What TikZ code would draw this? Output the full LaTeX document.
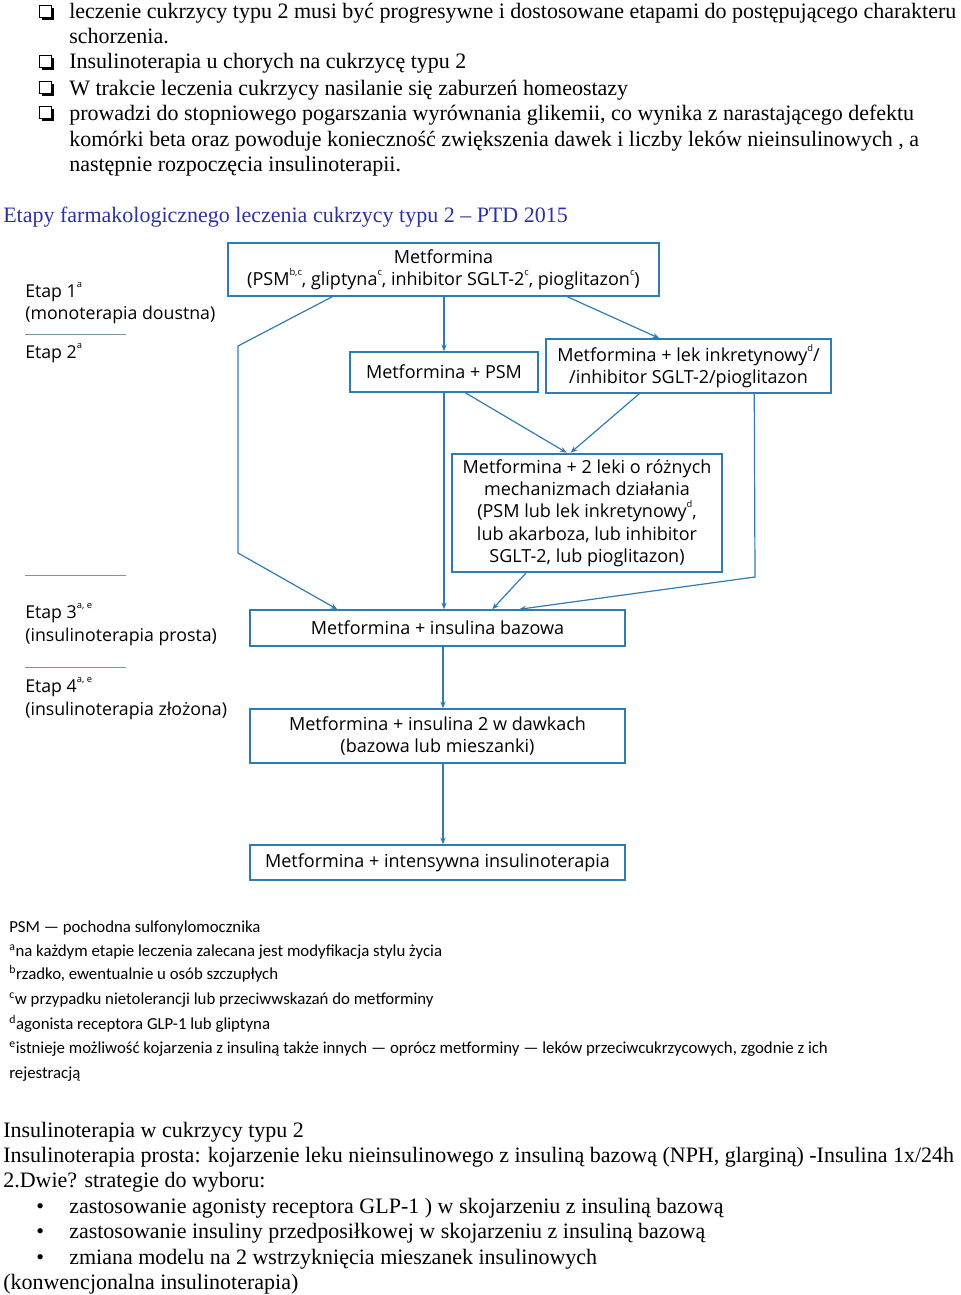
\documentclass[tikz,border=0pt]{standalone}
\usepackage{fontspec}
\setmainfont{Liberation Serif}
\newfontfamily\diagfont{Open Sans}
\newfontfamily\footfont{Carlito}
\usetikzlibrary{arrows.meta,calc}
\definecolor{boxblue}{RGB}{45,125,180}
\definecolor{titleblue}{RGB}{45,50,160}
\definecolor{sepblue}{RGB}{120,150,165}
\newcommand{\tsup}[1]{\raisebox{0.55em}{\fontsize{7}{7}\selectfont #1}}
\begin{document}
\begin{tikzpicture}[x=0.75pt,y=-0.75pt,
  body/.style={anchor=base west, inner sep=0pt, font=\fontsize{16.5}{19}\selectfont},
  etap/.style={anchor=base west, inner sep=0pt, font=\diagfont\fontsize{13.3}{16}\selectfont},
  fn/.style={anchor=base west, inner sep=0pt, font=\footfont\fontsize{12.6}{15}\selectfont},
  box/.style={draw=boxblue, line width=1.1pt, inner sep=0pt, align=center,
    font=\diagfont\fontsize{13.5}{16.7}\selectfont},
  conn/.style={draw=boxblue, line width=0.9pt},
  arr/.style={conn, -{Stealth[length=5pt,width=4pt]}},
  sep/.style={draw=sepblue, line width=0.6pt},
  chk/.style={draw=black, line width=0.6pt, fill=white}]
\useasboundingbox (0,0) rectangle (960,1295);

% checkboxes
\foreach \yy in {12,62,88,113}{
  \fill (42,\yy-4) rectangle (54,\yy+8);
  \draw[chk] (39,\yy-7) rectangle (51,\yy+5);
}
\node[body] (t1) at (69,19) {leczenie cukrzycy typu 2 musi być progresywne i dostosowane etapami do postępującego charakteru};
\node[body] (t2) at (69,44) {schorzenia.};
\node[body] (t3) at (69,69) {Insulinoterapia u chorych na cukrzycę typu 2};
\node[body] (t4) at (69,95) {W trakcie leczenia cukrzycy nasilanie się zaburzeń homeostazy};
\node[body] (t5) at (69,120) {prowadzi do stopniowego pogarszania wyrównania glikemii, co wynika z narastającego defektu};
\node[body] (t6) at (69,146) {komórki beta oraz powoduje konieczność zwiększenia dawek i liczby leków nieinsulinowych , a};
\node[body] (t7) at (69,171) {następnie rozpoczęcia insulinoterapii.};

\node[body, text=titleblue] (title) at (3,222) {Etapy farmakologicznego leczenia cukrzycy typu 2 – PTD 2015};

% stage labels
\node[etap] (e1) at (25,297) {Etap 1\tsup{a}};
\node[etap] (e1b) at (25,319) {(monoterapia doustna)};
\draw[sep] (25,334) -- (126,334);
\node[etap] (e2) at (25,358) {Etap 2\tsup{a}};
\draw[sep] (25,575) -- (126,575);
\node[etap] (e3) at (25,618) {Etap 3\tsup{a, e}};
\node[etap] (e3b) at (25,641) {(insulinoterapia prosta)};
\draw[sep] (25,667) -- (126,667);
\node[etap] (e4) at (25,692) {Etap 4\tsup{a, e}};
\node[etap] (e4b) at (25,715) {(insulinoterapia złożona)};

% boxes
\node[box, minimum width=431*0.75pt, minimum height=53*0.75pt] (top) at (443.5,269.5)
  {Metformina\\(PSM\tsup{b,c}, gliptyna\tsup{c}, inhibitor SGLT-2\tsup{c}, pioglitazon\tsup{c})};
\node[box, minimum width=188*0.75pt, minimum height=40*0.75pt] (psm) at (444,372) {Metformina + PSM};
\node[box, minimum width=285*0.75pt, minimum height=54*0.75pt] (inkr) at (688.5,366)
  {Metformina + lek inkretynowy\tsup{d}/\\/inhibitor SGLT-2/pioglitazon};
\node[box, line width=2pt, minimum width=270*0.75pt, minimum height=118*0.75pt] (two) at (587,513)
  {Metformina + 2 leki o różnych\\mechanizmach działania\\(PSM lub lek inkretynowy\tsup{d},\\lub akarboza, lub inhibitor\\SGLT-2, lub pioglitazon)};
\node[box, minimum width=375*0.75pt, minimum height=36*0.75pt] (baz) at (437.5,628) {Metformina + insulina bazowa};
\node[box, minimum width=375*0.75pt, minimum height=54*0.75pt] (dawk) at (437.5,736)
  {Metformina + insulina 2 w dawkach\\(bazowa lub mieszanki)};
\node[box, minimum width=375*0.75pt, minimum height=35*0.75pt] (inten) at (437.5,862.5) {Metformina + intensywna insulinoterapia};

% connectors
\coordinate (l1) at (238,346);
\coordinate (l2) at (238,553);
\coordinate (r1) at (755,577);
\draw[arr] ($(top.south west)+(105,0)$) -- (l1) -- (l2) -- ($(baz.north west)+(88,0)$);
\draw[arr] (top.south -| psm.north) -- (psm.north);
\draw[arr] ($(top.south west)+(340,0)$) -- ($(inkr.north west)+(114,0)$);
\draw[arr] (psm.south) -- (psm.south |- baz.north);
\draw[arr] ($(psm.south west)+(116,0)$) -- ($(two.north west)+(116,0)$);
\draw[arr] ($(inkr.south west)+(94,0)$) -- ($(two.north west)+(120,0)$);
\draw[arr] ($(inkr.south west)+(209,0)$) -- (r1) -- ($(baz.north west)+(270,0)$);
\draw[arr] ($(two.south west)+(75,0)$) -- ($(baz.north west)+(243,0)$);
\draw[arr] ($(baz.south)+(5.5,0)$) -- ($(dawk.north)+(5.5,0)$);
\draw[arr] ($(dawk.south)+(5.5,0)$) -- ($(inten.north)+(5.5,0)$);

% footnotes
\node[fn] (f0) at (9,932) {PSM — pochodna sulfonylomocznika};
\node[fn] (f1) at (9,956) {\textsuperscript{a}na każdym etapie leczenia zalecana jest modyfikacja stylu życia};
\node[fn] (f2) at (9,979) {\textsuperscript{b}rzadko, ewentualnie u osób szczupłych};
\node[fn] (f3) at (9,1004) {\textsuperscript{c}w przypadku nietolerancji lub przeciwwskazań do metforminy};
\node[fn] (f4) at (9,1029) {\textsuperscript{d}agonista receptora GLP-1 lub gliptyna};
\node[fn] (f5) at (9,1053) {\textsuperscript{e}istnieje możliwość kojarzenia z insuliną także innych — oprócz metforminy — leków przeciwcukrzycowych, zgodnie z ich};
\node[fn] (f6) at (9,1078) {rejestracją};

% bottom text
\node[body] (b1) at (3,1137) {Insulinoterapia w cukrzycy typu 2};
\node[body] (b2) at (3,1162) {Insulinoterapia prosta: kojarzenie leku nieinsulinowego z insuliną bazową (NPH, glarginą) -Insulina 1x/24h};
\node[body] (b3) at (3,1187) {2.Dwie? strategie do wyboru:};
\node[body] (bb1) at (36,1213) {•};
\node[body] (b4) at (69,1213) {zastosowanie agonisty receptora GLP-1 ) w skojarzeniu z insuliną bazową};
\node[body] (bb2) at (36,1238) {•};
\node[body] (b5) at (69,1238) {zastosowanie insuliny przedposiłkowej w skojarzeniu z insuliną bazową};
\node[body] (bb3) at (36,1264) {•};
\node[body] (b6) at (69,1264) {zmiana modelu na 2 wstrzyknięcia mieszanek insulinowych};
\node[body] (b7) at (3,1289) {(konwencjonalna insulinoterapia)};
\end{tikzpicture}
\end{document}
